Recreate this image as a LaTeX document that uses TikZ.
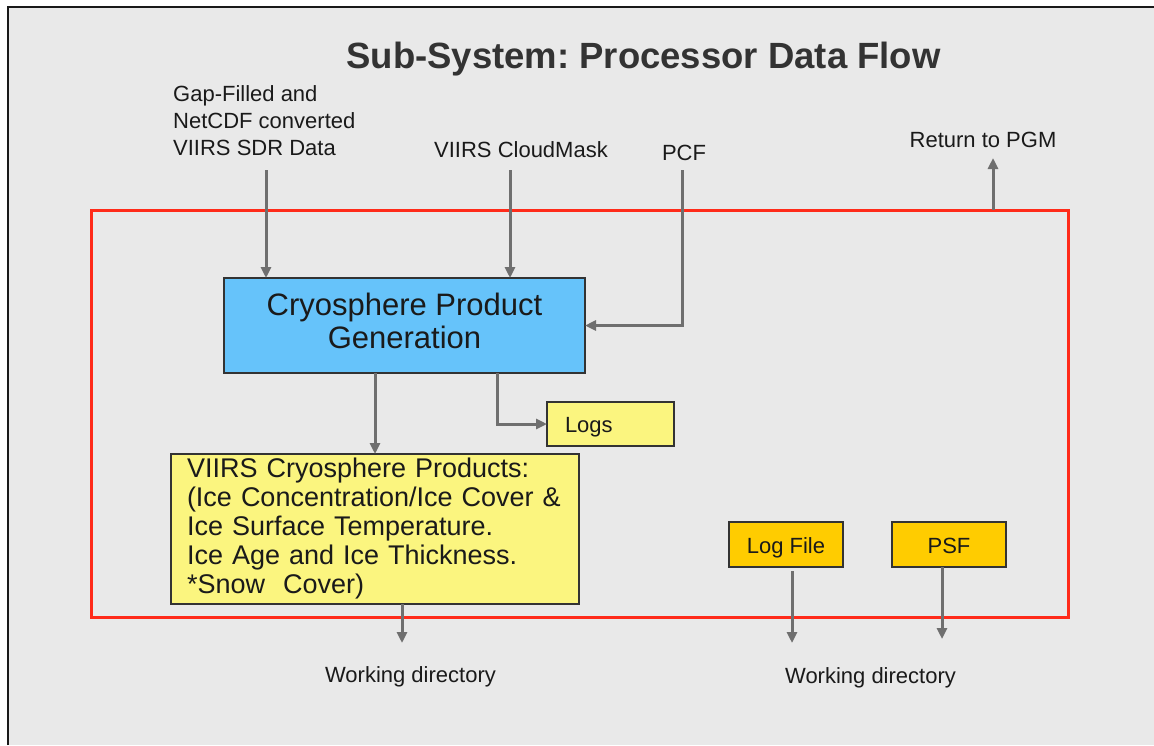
\documentclass[tikz,border=0pt]{standalone}
\usepackage{fontspec}
\setmainfont{Liberation Sans}
\usetikzlibrary{arrows.meta}
\definecolor{bg}{HTML}{E9E9E9}
\definecolor{redline}{HTML}{FF2B1A}
\definecolor{arr}{HTML}{6F6F6F}
\definecolor{blue1}{HTML}{66C3FA}
\definecolor{yel}{HTML}{FBF57F}
\definecolor{gold}{HTML}{FFCC00}
\definecolor{txt}{HTML}{1A1A1A}
\definecolor{titlec}{HTML}{333333}
\begin{document}
\frenchspacing
\begin{tikzpicture}[x=1pt,y=-1pt,
  flow/.style={draw=arr, line width=3pt, -{Triangle[length=11pt,width=10pt]}},
  box/.style={draw=black!80, line width=1.5pt, outer sep=0pt, anchor=north west, text=txt},
  lbl/.style={text=txt, inner sep=0pt, font=\fontsize{22}{27}\selectfont}
]
\useasboundingbox (0,0) rectangle (1154,745);
\fill[white] (0,0) rectangle (1154,745);
\fill[bg] (8,7) rectangle (1154,745);
\draw[black!90, line width=2pt] (8.3,745) -- (8.3,7) -- (1154,7);

\node[anchor=base, inner sep=0pt, text=titlec, font=\fontsize{36.5}{40}\selectfont\bfseries] (title) at (643.5,68) {Sub-System: Processor Data Flow};

% system boundary
\node[draw=redline, line width=3pt, outer sep=0pt, inner sep=0pt, anchor=north west, minimum width=977pt, minimum height=407pt] (sys) at (91,210) {};

% input / output labels
\node[lbl, align=left, anchor=north west] (gap) at (173,85) {Gap-Filled and\\NetCDF converted\\VIIRS SDR Data};
\node[lbl, anchor=base] (cm) at (521,157) {VIIRS CloudMask};
\node[lbl, anchor=base] (pcf) at (684,160) {PCF};
\node[lbl, anchor=base] (ret) at (983,147) {Return to PGM};
\node[lbl, anchor=base] (wd1) at (410.5,682) {Working directory};
\node[lbl, anchor=base] (wd2) at (870.5,683) {Working directory};

% boxes
\node[box, fill=blue1, minimum width=361pt, minimum height=95pt, align=center, font=\fontsize{31}{33}\selectfont] (gen) at (224,278) {Cryosphere Product\\Generation\rule[-9.4pt]{0pt}{9.4pt}};
\node[box, fill=yel, text width=376pt, inner xsep=16pt, minimum height=150pt, align=left, font=\fontsize{27}{29}\selectfont] (prod) at (171,454) {VIIRS Cryosphere Products:\\(Ice Concentration/Ice Cover \&\\Ice Surface Temperature.\\Ice Age and Ice Thickness.\\{}*Snow\ \ Cover)};
\node[box, fill=yel, text width=91pt, inner xsep=18pt, minimum height=44pt, align=left, text height=22pt, text depth=4.6pt, font=\fontsize{22}{27}\selectfont] (logs) at (547,402) {Logs};
\node[box, fill=gold, minimum width=114pt, minimum height=45pt, text height=21.6pt, text depth=4.6pt, font=\fontsize{22}{27}\selectfont] (lf) at (729,522) {Log File};
\node[box, fill=gold, minimum width=114pt, minimum height=45pt, text height=21.6pt, text depth=4.6pt, font=\fontsize{22}{27}\selectfont] (psf) at (892,522) {PSF};

% connector end points
\coordinate (gapstart) at (266,170);
\coordinate (cmstart) at (510,170);
\coordinate (pcfstart) at (682,170);
\coordinate (rettip) at (993,158);
\coordinate (prodx) at (375,0);
\coordinate (logsx) at (497,0);
\coordinate (wd1tip) at (402,643);
\coordinate (lftip) at (792,643);
\coordinate (psftip) at (942,639);

% connectors
\draw[flow] (gapstart) -- (gapstart |- gen.north);
\draw[flow] (cmstart) -- (cmstart |- gen.north);
\draw[flow] (pcfstart) |- (gen.east);
\draw[flow] (rettip |- sys.north) -- (rettip);
\draw[flow] (prodx |- gen.south) -- (prodx |- prod.north);
\draw[flow] (logsx |- gen.south) |- (logs.west);
\draw[flow] (wd1tip |- prod.south) -- (wd1tip);
\draw[flow, shorten <=4pt] (lftip |- lf.south) -- (lftip);
\draw[flow] (psftip |- psf.south) -- (psftip);
\end{tikzpicture}
\end{document}
